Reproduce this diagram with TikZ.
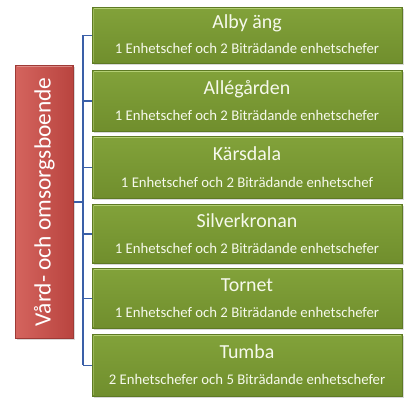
\documentclass[tikz,border=0pt]{standalone}
\usepackage{fontspec}
\setmainfont{Carlito}
\usetikzlibrary{shadows}
\definecolor{gtop}{HTML}{82A23A}
\definecolor{gbot}{HTML}{708E2D}
\definecolor{gedge}{HTML}{5E7A24}
\definecolor{ghi}{HTML}{B9D37A}
\definecolor{rleft}{HTML}{D4645E}
\definecolor{rright}{HTML}{B9443F}
\definecolor{redge}{HTML}{9E3A36}
\definecolor{conncol}{HTML}{3A5FA8}
\definecolor{txt}{HTML}{F6F9EC}
\begin{document}
\begin{tikzpicture}[x=1bp,y=-1bp,
  gbox/.style={rectangle, draw=gedge, line width=0.6bp, top color=gtop, bottom color=gbot,
    minimum width=310bp, anchor=north west, inner sep=0pt,
    drop shadow={shadow xshift=1.2bp, shadow yshift=-1.5bp, opacity=0.3}},
  rbox/.style={rectangle, draw=redge, line width=0.6bp, left color=rleft, right color=rright,
    minimum width=58bp, minimum height=273bp, anchor=north west, inner sep=0pt,
    drop shadow={shadow xshift=1.2bp, shadow yshift=-1.5bp, opacity=0.3}},
  hilite/.style={draw=ghi, line width=1.3bp, opacity=0.9},
  titletext/.style={anchor=base, inner sep=0pt, text=txt, font=\fontsize{20}{24}\selectfont},
  subtext/.style={anchor=base, inner sep=0pt, text=txt, font=\fontsize{14.8}{17}\selectfont},
  redtext/.style={inner sep=0pt, text=white, font=\fontsize{23.5}{27}\selectfont},
  conn/.style={draw=conncol, line width=1.4bp}]
\useasboundingbox[fill=white] (0,0) rectangle (409,405);

% parent
\node[rbox] (r) at (15,65) {};
\draw[draw=rleft!60!white, line width=1bp, opacity=0.7]
  ([xshift=1.5bp,yshift=-1.5bp]r.north west) -- ([xshift=-1.5bp,yshift=-1.5bp]r.north east);
\node[redtext, rotate=90] (rt) at (r.center) {Vård- och omsorgsboende};

% children
\node[gbox, minimum height=56bp] (b1) at (92,7) {};
\node[gbox, minimum height=61bp] (b2) at (92,70) {};
\node[gbox, minimum height=62bp] (b3) at (92,136) {};
\node[gbox, minimum height=59bp] (b4) at (92,204) {};
\node[gbox, minimum height=60bp] (b5) at (92,268) {};
\node[gbox, minimum height=62bp] (b6) at (92,334) {};

\foreach \b in {b1,b2,b3,b4,b5,b6}{
  \draw[hilite] ([xshift=1.5bp,yshift=-1.8bp]\b.north west) -- ([xshift=-1.5bp,yshift=-1.8bp]\b.north east);
  \draw[draw=ghi, line width=0.8bp, opacity=0.5] ([xshift=1.5bp,yshift=-1.5bp]\b.north west) -- ([xshift=1.5bp,yshift=1.5bp]\b.south west);
}

\node[titletext] (t1) at (247,28) {Alby äng};
\node[subtext]   (s1) at (247,53) {1 Enhetschef och 2 Biträdande enhetschefer};
\node[titletext] (t2) at (247,94) {Allégården};
\node[subtext]   (s2) at (247,120) {1 Enhetschef och 2 Biträdande enhetschefer};
\node[titletext] (t3) at (247,160) {Kärsdala};
\node[subtext]   (s3) at (247,187) {1 Enhetschef och 2 Biträdande enhetschef};
\node[titletext] (t4) at (247,227) {Silverkronan};
\node[subtext]   (s4) at (247,253) {1 Enhetschef och 2 Biträdande enhetschefer};
\node[titletext] (t5) at (247,291) {Tornet};
\node[subtext]   (s5) at (247,317) {1 Enhetschef och 2 Biträdande enhetschefer};
\node[titletext] (t6) at (247,358) {Tumba};
\node[subtext]   (s6) at (247,384) {2 Enhetschefer och 5 Biträdande enhetschefer};

% connectors
\coordinate (vx) at (83,0);
\draw[conn] (b1.west -| vx) -- (b6.west -| vx);
\draw[conn] (r.east) -- (r.east -| vx);
\foreach \b in {b1,b2,b3,b4,b5,b6}{
  \draw[conn] (\b.west -| vx) -- (\b.west);
}
\end{tikzpicture}
\end{document}
